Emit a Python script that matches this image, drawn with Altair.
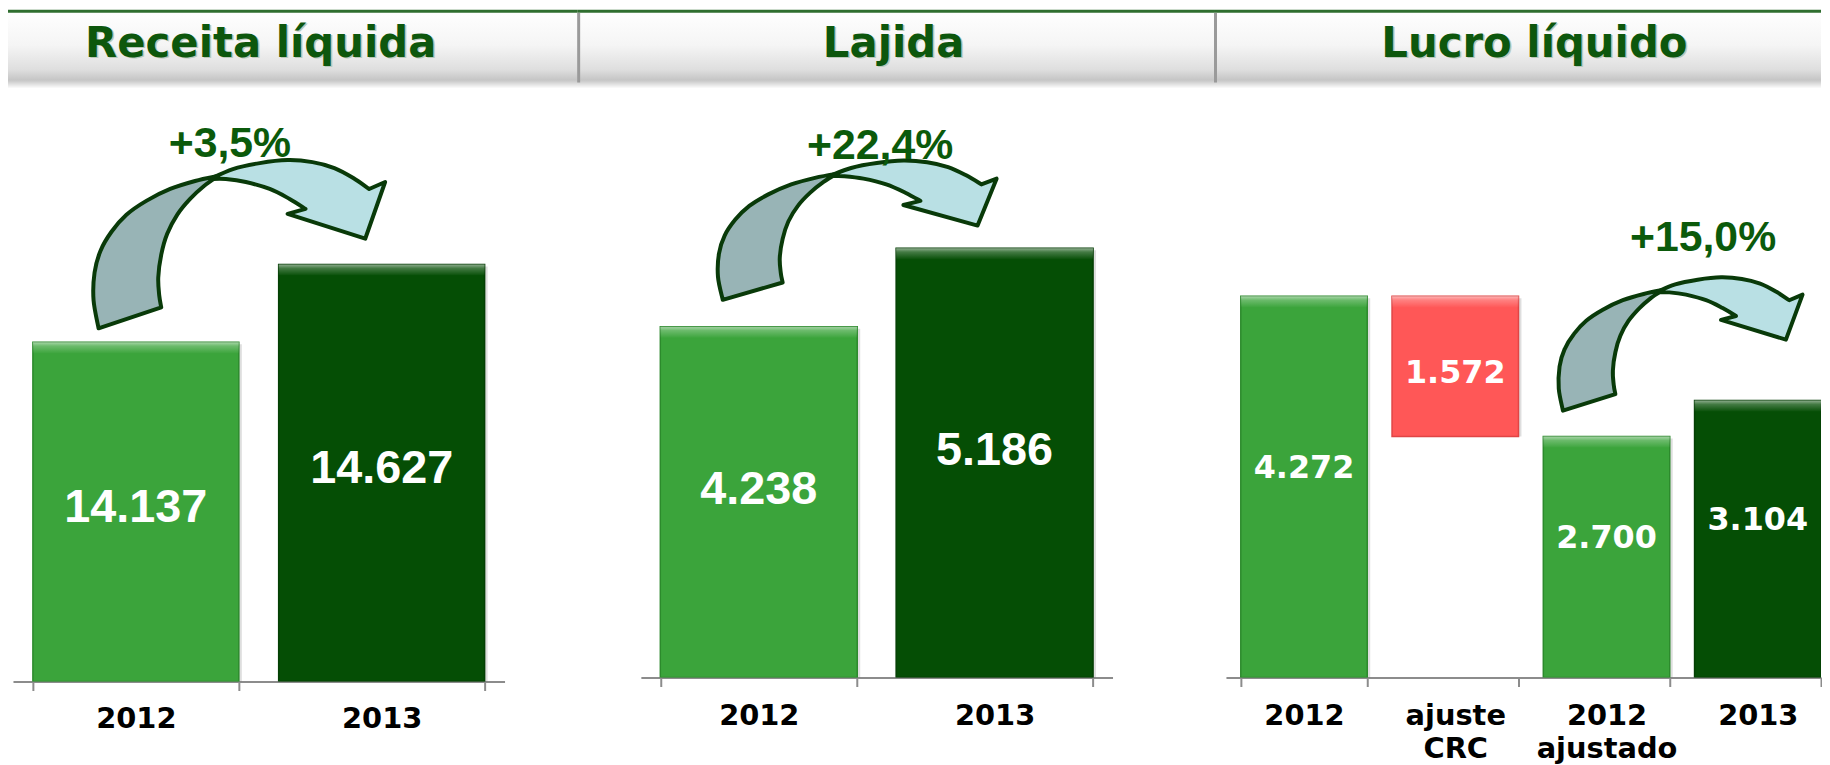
import altair as alt
import pandas as pd

# ---------------- data ----------------
titles = ["Receita líquida", "Lajida", "Lucro líquido"]
growth = ["+3,5%", "+22,4%", "+15,0%"]

rl_cats = ["2012", "2013"]
rl_vals = [14137, 14627]
rl_kind = ["anterior", "atual"]

lj_cats = ["2012", "2013"]
lj_vals = [4238, 5186]
lj_kind = ["anterior", "atual"]

ll_cats = ["2012", "ajuste CRC", "2012 ajustado", "2013"]
ll_vals = [4272, 1572, 2700, 3104]
ll_kind = ["anterior", "ajuste", "anterior", "atual"]

kinds = ["anterior", "atual", "ajuste"]
kind_colors = ["#3ba43b", "#054e05", "#ff5757"]
kind_edges = ["#2c8a2c", "#043f04", "#e04545"]

TXT_GREEN = "#0b5a0b"
OUTLINE = "#093a09"


def fmt(v):
    return f"{v:,}".replace(",", ".")


def frame(cats, vals, kinds_, floor=0):
    rows, prev = [], 0
    for c, v, k in zip(cats, vals, kinds_):
        if k == "ajuste":
            end, start = prev, prev - v
            prev = start
        else:
            start, end = floor, v
            prev = v
        rows.append(dict(cat=c, start=start, end=end, mid=(start + end) / 2, kind=k, label=fmt(v)))
    return pd.DataFrame(rows)


# ---------------- styles ----------------
def grad(stops):
    return alt.Gradient(gradient="linear", x1=0, x2=0, y1=0, y2=1,
                        stops=[alt.GradientStop(offset=o, color=c) for o, c in stops])


HEADER_GRAD = grad([(0, "#ffffff"), (0.5, "#f5f5f5"), (0.85, "#dedede"), (1, "#c4c4c4")])
SHADOW_GRAD = grad([(0, "rgba(0,0,0,0.22)"), (1, "rgba(0,0,0,0)")])
BEVEL_GRAD = grad([(0, "rgba(255,255,255,0.55)"), (0.35, "rgba(255,255,255,0.25)"), (1, "rgba(255,255,255,0.02)")])

# arrow template (shape outline in a reference box)
T_BOX = (95, 159, 293, 169)
A_OUTER = [(100, 328), (95, 300), (96, 272), (102, 250), (113, 231), (128, 214), (148, 200),
           (172, 188), (197, 180), (220, 175)]
A_INNER = [(220, 175), (206, 185), (192, 198), (179, 214), (169, 233), (163, 254), (160, 277),
           (161, 295), (163, 307)]
A_TOP = [(212, 178), (235, 168), (262, 162), (290, 159), (315, 161), (337, 167), (356, 177), (372, 188)]
A_HEAD = [(388, 181), (368, 238), (290, 213), (308, 208)]
A_FIN = [(308, 208), (292, 198), (272, 188), (248, 181), (228, 178), (212, 178)]


def smooth(pts):
    cmds, n = [], len(pts)
    for i in range(n - 1):
        p0 = pts[i - 1] if i > 0 else pts[i]
        p1, p2 = pts[i], pts[i + 1]
        p3 = pts[i + 2] if i + 2 < n else pts[i + 1]
        c1 = (p1[0] + (p2[0] - p0[0]) / 6, p1[1] + (p2[1] - p0[1]) / 6)
        c2 = (p2[0] - (p3[0] - p1[0]) / 6, p2[1] - (p3[1] - p1[1]) / 6)
        cmds.append(f"C{c1[0]:.1f},{c1[1]:.1f} {c2[0]:.1f},{c2[1]:.1f} {p2[0]:.1f},{p2[1]:.1f}")
    return " ".join(cmds)


def arrow_paths(box, anchor):
    bx, by, bw, bh = box
    ax, ay = anchor
    tx, ty, tw, th = T_BOX

    def m(pts):
        return [(bx + (x - tx) / tw * bw - ax, by + (y - ty) / th * bh - ay) for x, y in pts]

    o, i_, t, h, f = m(A_OUTER), m(A_INNER), m(A_TOP), m(A_HEAD), m(A_FIN)
    back = f"M{o[0][0]:.1f},{o[0][1]:.1f} " + smooth(o) + " " + smooth(i_) + " Z"
    front = (f"M{t[0][0]:.1f},{t[0][1]:.1f} " + smooth(t) + " "
             + " ".join(f"L{x:.1f},{y:.1f}" for x, y in h) + " " + smooth(f) + " Z")
    return back, front


def band_axis(label_pad, extra):
    return alt.Axis(title=None, labelAngle=0, grid=False, domainColor="#8c8c8c", domainWidth=2,
                    tickColor="#8c8c8c", tickWidth=2, tickSize=9, tickBand="extent",
                    tickExtra=extra,
                    labelFont="DejaVu Sans", labelFontWeight="bold", labelFontSize=29,
                    labelColor="#000000", labelPadding=label_pad, labelBaseline="top",
                    labelLineHeight=33, labelOverlap=False,
                    labelExpr="split(datum.label, ' ')")


def panel(df, cats, W, H, xscale, ydom, title, tcx, sep, lab_font, lab_size, lab_dy,
          red_dy, pct, anchor_cat, pct_dxdy, box, ref_anchor, label_pad, extra=True):
    x = alt.X("cat:N", sort=cats, scale=xscale, axis=band_axis(label_pad, extra))
    ysc = alt.Scale(domain=ydom, nice=False, zero=False)
    y = alt.Y("end:Q", scale=ysc, axis=None)
    fill = alt.Fill("kind:N", scale=alt.Scale(domain=kinds, range=kind_colors), legend=None)
    stroke = alt.Stroke("kind:N", scale=alt.Scale(domain=kinds, range=kind_edges), legend=None)

    hdr = alt.Chart(pd.DataFrame({"title": [title]}))
    layers = [
        hdr.mark_rect(fill=HEADER_GRAD).encode(x=alt.value(0), x2=alt.value(W),
                                                y=alt.value(0), y2=alt.value(71)),
        hdr.mark_rect(fill=SHADOW_GRAD).encode(x=alt.value(0), x2=alt.value(W),
                                                y=alt.value(71), y2=alt.value(79)),
        hdr.mark_rect(fill="#2f6e2f").encode(x=alt.value(0), x2=alt.value(W),
                                              y=alt.value(0), y2=alt.value(3)),
    ]
    if sep:
        layers.append(hdr.mark_rect(fill="#9a9a9a").encode(x=alt.value(0), x2=alt.value(3),
                                                            y=alt.value(3), y2=alt.value(73)))
    layers += [
        hdr.mark_text(font="DejaVu Sans", fontWeight="bold", fontSize=42, color="#b9c9b9",
                      baseline="alphabetic", align="center").encode(
            x=alt.value(tcx + 1.5), y=alt.value(48.5), text="title:N"),
        hdr.mark_text(font="DejaVu Sans", fontWeight="bold", fontSize=42, color="#0d570d",
                      baseline="alphabetic", align="center").encode(
            x=alt.value(tcx), y=alt.value(47), text="title:N"),
    ]

    base = alt.Chart(df)
    layers += [
        base.mark_bar(fill="#000000", opacity=0.13, xOffset=3, yOffset=2, clip=True).encode(
            x=x, y=y, y2="start:Q"),
        base.mark_bar(strokeWidth=1.5, clip=True).encode(x=x, y=y, y2="start:Q", fill=fill, stroke=stroke),
        base.mark_bar(fill=BEVEL_GRAD, y2Offset=11, clip=True).encode(x=x, y=y, y2="end:Q"),
        base.transform_filter(alt.datum.kind != "ajuste").mark_text(
            font=lab_font, fontWeight="bold", fontSize=lab_size, color="white",
            baseline="middle", align="center", dy=lab_dy).encode(
            x=x, y=alt.Y("mid:Q", scale=ysc, axis=None), text="label:N"),
        base.transform_filter(alt.datum.kind == "ajuste").mark_text(
            font=lab_font, fontWeight="bold", fontSize=lab_size, color="white",
            baseline="middle", align="center", dy=red_dy).encode(
            x=x, y=alt.Y("mid:Q", scale=ysc, axis=None), text="label:N"),
    ]

    back, front = arrow_paths(box, ref_anchor)
    anc = base.transform_filter(alt.datum.cat == anchor_cat)
    layers += [
        anc.mark_point(shape=back, size=4, filled=True, fill="#98b4b6", stroke=OUTLINE,
                       strokeWidth=4, strokeJoin="round", opacity=1).encode(x=x, y=y),
        anc.mark_point(shape=front, size=4, filled=True, fill="#b9e0e4", stroke=OUTLINE,
                       strokeWidth=4, strokeJoin="round", opacity=1).encode(x=x, y=y),
        anc.mark_text(text=pct, font="Liberation Sans", fontWeight="bold", fontSize=43,
                      color=TXT_GREEN, baseline="middle", align="center",
                      dx=pct_dxdy[0], dy=pct_dxdy[1]).encode(x=x, y=y),
    ]
    return alt.layer(*layers).properties(width=W, height=H)


df1 = frame(rl_cats, rl_vals, rl_kind, floor=12000)
df2 = frame(lj_cats, lj_vals, lj_kind)
df3 = frame(ll_cats, ll_vals, ll_kind)

xs1 = alt.Scale(domain=rl_cats, range=[5, 499], paddingInner=0.162, paddingOuter=0.081)
xs2 = alt.Scale(domain=lj_cats, range=[64, 538], paddingInner=0.165, paddingOuter=0.0825)
xs3 = alt.Scale(domain=ll_cats, range=[12, 610], paddingInner=0.164, paddingOuter=0.049, align=1)

p1 = panel(df1, rl_cats, 572, 675, xs1, [12000, 16230], titles[0], 254, False,
           "Liberation Sans", 47, -4, 0, growth[0], "2012", (94.5, -199.5),
           (95, 159, 293, 169), (137.5, 342), 14)
p2 = panel(df2, lj_cats, 640, 671, xs2, [0, 8065], titles[1], 318, True,
           "Liberation Sans", 47, -12, 0, growth[1], "2012", (122, -181.5),
           (723, 160, 280, 140), (764, 327), 15)
p3 = panel(df3, ll_cats, 610, 671, xs3, [0, 7480], titles[2], 322, True,
           "DejaVu Sans", 32, -19, 7, growth[2], "2012 ajustado", (97, -199.5),
           (1565, 277, 245, 134), (1613, 437), 15, extra=False)

chart = alt.hconcat(p1, p2, p3, spacing=0).properties(
    padding=0, background="white"
).configure_view(stroke=None)

chart.save("out.html", embed_options={"renderer": "svg", "actions": False})
